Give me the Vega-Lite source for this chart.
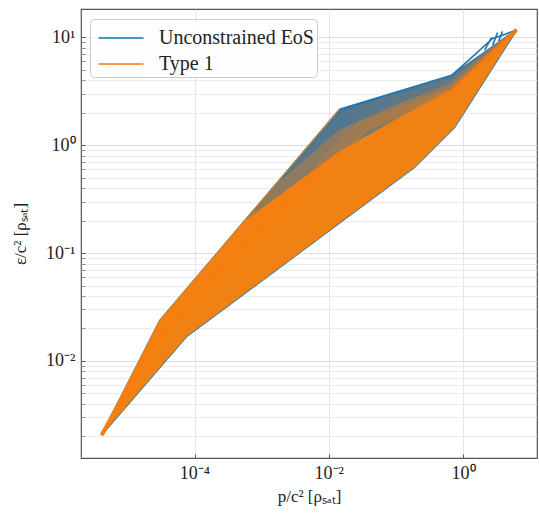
{
  "$schema": "https://vega.github.io/schema/vega-lite/v6.json",
  "width": 456,
  "height": 449,
  "autosize": {"type": "none"},
  "padding": {"left": 81, "top": 9, "right": 2, "bottom": 55},
  "background": "white",
  "config": {
    "font": "Liberation Serif",
    "view": {"stroke": "#555555", "strokeWidth": 1.2},
    "axis": {
      "domain": false,
      "tickColor": "#555555",
      "tickSize": -4,
      "labelFont": "Liberation Serif",
      "labelFontSize": 18,
      "labelColor": "#222222",
      "titleFont": "Liberation Serif",
      "titleFontSize": 17,
      "titleColor": "#222222",
      "titleFontWeight": "normal",
      "labelOverlap": false,
      "labelFlush": false
    }
  },
  "datasets": {
    "band": [
      {"x": 4.13e-6, "y": 0.002056, "lo": 0.002056},
      {"x": 3.047e-5, "y": 0.02372, "lo": 0.008687},
      {"x": 7.68e-5, "y": 0.04664, "lo": 0.01692},
      {"x": 0.01453, "y": 2.153, "lo": 0.1906},
      {"x": 0.1898, "y": 3.498, "lo": 0.6259},
      {"x": 0.6743, "y": 4.441, "lo": 1.377},
      {"x": 0.7473, "y": 4.645, "lo": 1.468},
      {"x": 6.252, "y": 11.7, "lo": 11.7}
    ],
    "mid": [
      {"x": 4.13e-6, "y": 0.002056, "lo": 0.002056},
      {"x": 3.047e-5, "y": 0.02372, "lo": 0.008687},
      {"x": 7.68e-5, "y": 0.04664, "lo": 0.01692},
      {"x": 1.567e-3, "y": 0.422, "lo": 0.06816},
      {"x": 0.01453, "y": 1.406, "lo": 0.1906},
      {"x": 0.1135, "y": 2.446, "lo": 0.4931},
      {"x": 0.1898, "y": 2.767, "lo": 0.6259},
      {"x": 0.6743, "y": 3.745, "lo": 1.377},
      {"x": 0.7473, "y": 3.951, "lo": 1.468},
      {"x": 6.252, "y": 11.7, "lo": 11.7}
    ],
    "core": [
      {"x": 4.13e-6, "y": 0.002056, "lo": 0.002056},
      {"x": 3.047e-5, "y": 0.02372, "lo": 0.008687},
      {"x": 7.68e-5, "y": 0.04664, "lo": 0.01692},
      {"x": 5.604e-4, "y": 0.1994, "lo": 0.04238},
      {"x": 0.01453, "y": 0.8801, "lo": 0.1906},
      {"x": 0.1135, "y": 1.815, "lo": 0.4931},
      {"x": 0.1898, "y": 2.158, "lo": 0.6259},
      {"x": 0.6743, "y": 3.296, "lo": 1.377},
      {"x": 0.7473, "y": 3.491, "lo": 1.468},
      {"x": 6.252, "y": 11.7, "lo": 11.7}
    ],
    "curves": [
      {"s": "Unconstrained EoS", "c": "b0", "t": 0, "x": 4.13e-6, "y": 0.002056},
      {"s": "Unconstrained EoS", "c": "b0", "t": 0, "x": 3.047e-5, "y": 0.02372},
      {"s": "Unconstrained EoS", "c": "b0", "t": 0, "x": 0.01453, "y": 2.152},
      {"s": "Unconstrained EoS", "c": "b0", "t": 0, "x": 0.6745, "y": 4.446},
      {"s": "Unconstrained EoS", "c": "b0", "t": 0, "x": 6.252, "y": 11.7},
      {"s": "Unconstrained EoS", "c": "b1", "t": 1, "x": 4.13e-6, "y": 0.002056},
      {"s": "Unconstrained EoS", "c": "b1", "t": 1, "x": 7.673e-5, "y": 0.01691},
      {"s": "Unconstrained EoS", "c": "b1", "t": 1, "x": 0.1896, "y": 0.6259},
      {"s": "Unconstrained EoS", "c": "b1", "t": 1, "x": 0.7473, "y": 1.468},
      {"s": "Unconstrained EoS", "c": "b1", "t": 1, "x": 6.252, "y": 11.7},
      {"s": "Unconstrained EoS", "c": "bu", "t": 0, "x": 0.6743, "y": 4.441},
      {"s": "Unconstrained EoS", "c": "bu", "t": 0, "x": 1.249, "y": 6.247},
      {"s": "Unconstrained EoS", "c": "bu", "t": 0, "x": 2.748, "y": 9.768},
      {"s": "Unconstrained EoS", "c": "bu", "t": 0, "x": 4.146, "y": 10.64},
      {"s": "Unconstrained EoS", "c": "bu", "t": 0, "x": 6.252, "y": 11.7},
      {"s": "Unconstrained EoS", "c": "p1", "t": 0, "x": 2.089, "y": 7.568},
      {"s": "Unconstrained EoS", "c": "p1", "t": 0, "x": 2.655, "y": 9.98},
      {"s": "Unconstrained EoS", "c": "p2", "t": 0, "x": 2.748, "y": 8.414},
      {"s": "Unconstrained EoS", "c": "p2", "t": 0, "x": 3.262, "y": 11.1},
      {"s": "Unconstrained EoS", "c": "p3", "t": 0, "x": 3.376, "y": 9.162},
      {"s": "Unconstrained EoS", "c": "p3", "t": 0, "x": 3.871, "y": 11.34},
      {"s": "Type 1", "c": "o05", "t": 0.05, "x": 4.13e-6, "y": 0.002056},
      {"s": "Type 1", "c": "o05", "t": 0.05, "x": 3.191e-5, "y": 0.02332},
      {"s": "Type 1", "c": "o05", "t": 0.05, "x": 0.01651, "y": 2.024},
      {"s": "Type 1", "c": "o05", "t": 0.05, "x": 0.678, "y": 4.206},
      {"s": "Type 1", "c": "o05", "t": 0.05, "x": 6.252, "y": 11.7},
      {"s": "Type 1", "c": "o10", "t": 0.1, "x": 4.13e-6, "y": 0.002056},
      {"s": "Type 1", "c": "o10", "t": 0.1, "x": 3.343e-5, "y": 0.02293},
      {"s": "Type 1", "c": "o10", "t": 0.1, "x": 0.01877, "y": 1.903},
      {"s": "Type 1", "c": "o10", "t": 0.1, "x": 0.6815, "y": 3.98},
      {"s": "Type 1", "c": "o10", "t": 0.1, "x": 6.252, "y": 11.7},
      {"s": "Type 1", "c": "o15", "t": 0.15, "x": 4.13e-6, "y": 0.002056},
      {"s": "Type 1", "c": "o15", "t": 0.15, "x": 3.5e-5, "y": 0.02254},
      {"s": "Type 1", "c": "o15", "t": 0.15, "x": 0.02135, "y": 1.788},
      {"s": "Type 1", "c": "o15", "t": 0.15, "x": 0.6851, "y": 3.765},
      {"s": "Type 1", "c": "o15", "t": 0.15, "x": 6.252, "y": 11.7},
      {"s": "Type 1", "c": "o20", "t": 0.2, "x": 4.13e-6, "y": 0.002056},
      {"s": "Type 1", "c": "o20", "t": 0.2, "x": 3.666e-5, "y": 0.02216},
      {"s": "Type 1", "c": "o20", "t": 0.2, "x": 0.02428, "y": 1.682},
      {"s": "Type 1", "c": "o20", "t": 0.2, "x": 0.6886, "y": 3.562},
      {"s": "Type 1", "c": "o20", "t": 0.2, "x": 6.252, "y": 11.7},
      {"s": "Type 1", "c": "o25", "t": 0.25, "x": 4.13e-6, "y": 0.002056},
      {"s": "Type 1", "c": "o25", "t": 0.25, "x": 3.839e-5, "y": 0.02179},
      {"s": "Type 1", "c": "o25", "t": 0.25, "x": 0.0276, "y": 1.581},
      {"s": "Type 1", "c": "o25", "t": 0.25, "x": 0.6921, "y": 3.369},
      {"s": "Type 1", "c": "o25", "t": 0.25, "x": 6.252, "y": 11.7},
      {"s": "Type 1", "c": "o30", "t": 0.3, "x": 4.13e-6, "y": 0.002056},
      {"s": "Type 1", "c": "o30", "t": 0.3, "x": 4.021e-5, "y": 0.02143},
      {"s": "Type 1", "c": "o30", "t": 0.3, "x": 0.03139, "y": 1.487},
      {"s": "Type 1", "c": "o30", "t": 0.3, "x": 0.6956, "y": 3.188},
      {"s": "Type 1", "c": "o30", "t": 0.3, "x": 6.252, "y": 11.7},
      {"s": "Type 1", "c": "o35", "t": 0.35, "x": 4.13e-6, "y": 0.002056},
      {"s": "Type 1", "c": "o35", "t": 0.35, "x": 4.21e-5, "y": 0.02106},
      {"s": "Type 1", "c": "o35", "t": 0.35, "x": 0.03569, "y": 1.397},
      {"s": "Type 1", "c": "o35", "t": 0.35, "x": 0.6991, "y": 3.016},
      {"s": "Type 1", "c": "o35", "t": 0.35, "x": 6.252, "y": 11.7},
      {"s": "Type 1", "c": "oe", "t": -1, "x": 4.13e-6, "y": 0.002056},
      {"s": "Type 1", "c": "oe", "t": -1, "x": 3.047e-5, "y": 0.02372},
      {"s": "Type 1", "c": "oe", "t": -1, "x": 0.01453, "y": 2.152}
    ]
  },
  "encoding": {
    "x": {
      "field": "x",
      "type": "quantitative",
      "scale": {"type": "log", "domain": [2.04e-6, 12.6], "nice": false},
      "axis": {
        "values": [0.0001, 0.01, 1],
        "labelExpr": "datum.value == 1 ? '10⁰' : datum.value == 0.01 ? '10⁻²' : datum.value == 0.0001 ? '10⁻⁴' : ''",
        "title": "p/c² [ρₛₐₜ]",
        "grid": true,
        "gridColor": "#dedede",
        "gridWidth": 0.8,
        "labelPadding": 10,
        "titlePadding": 6
      }
    },
    "y": {
      "field": "y",
      "type": "quantitative",
      "scale": {"type": "log", "domain": [1.26e-3, 18.3], "nice": false},
      "axis": {
        "values": [0.002, 0.003, 0.004, 0.005, 0.006, 0.007, 0.008, 0.009, 0.01, 0.02, 0.03, 0.04, 0.05, 0.06, 0.07, 0.08, 0.09, 0.1, 0.2, 0.3, 0.4, 0.5, 0.6, 0.7, 0.8, 0.9, 1, 2, 3, 4, 5, 6, 7, 8, 9, 10],
        "labelExpr": "datum.value == 10 ? '10¹' : datum.value == 1 ? '10⁰' : datum.value == 0.1 ? '10⁻¹' : datum.value == 0.01 ? '10⁻²' : ''",
        "title": "ε/c² [ρₛₐₜ]",
        "grid": true,
        "gridColor": {"condition": {"test": "datum.value == 10 || datum.value == 1 || datum.value == 0.1 || datum.value == 0.01", "value": "#d6d6d6"}, "value": "#e6e6e6"},
        "gridWidth": 0.8,
        "tickOpacity": {"condition": {"test": "datum.value == 10 || datum.value == 1 || datum.value == 0.1 || datum.value == 0.01", "value": 1}, "value": 0.6},
        "labelPadding": 10,
        "titlePadding": 16
      }
    }
  },
  "layer": [
    {
      "data": {"name": "band"},
      "mark": {"type": "area", "color": "#3377a8"},
      "encoding": {"y2": {"field": "lo"}}
    },
    {
      "data": {"name": "curves"},
      "transform": [{"filter": "datum.s == 'Unconstrained EoS'"}],
      "mark": {"type": "line", "strokeWidth": 1.6},
      "encoding": {
        "detail": {"field": "c"},
        "color": {
          "field": "s",
          "type": "nominal",
          "scale": {"domain": ["Unconstrained EoS", "Type 1"], "range": ["#1f77b4", "#ff7f0e"]},
          "legend": {
            "orient": "none",
            "legendX": 9,
            "legendY": 10,
            "title": null,
            "symbolType": "M-1.5,0L1.5,0",
            "symbolSize": 900,
            "symbolStrokeWidth": 2,
            "symbolOpacity": 0.8,
            "symbolOffset": 12,
            "labelOffset": 22,
            "labelFontSize": 20,
            "labelFont": "Liberation Serif",
            "labelColor": "#222222",
            "labelLimit": 400,
            "fillColor": "rgba(255,255,255,0.85)",
            "strokeColor": "#cccccc",
            "cornerRadius": 4,
            "padding": 3,
            "rowPadding": 0
          }
        }
      }
    },
    {
      "data": {"name": "mid"},
      "mark": {"type": "area", "color": "#f08213", "opacity": 0.35},
      "encoding": {"y2": {"field": "lo"}}
    },
    {
      "data": {"name": "core"},
      "mark": {"type": "area", "color": "#f08213"},
      "encoding": {"y2": {"field": "lo"}}
    },
    {
      "data": {"name": "curves"},
      "transform": [{"filter": "datum.s == 'Type 1' && datum.t >= 0.05"}],
      "mark": {"type": "line", "strokeWidth": 4, "color": "#ff7f0e", "opacity": 0.18},
      "encoding": {"detail": {"field": "c"}}
    },
    {
      "data": {"name": "curves"},
      "transform": [{"filter": "datum.s == 'Type 1' && datum.t >= 0.25"}],
      "mark": {"type": "line", "strokeWidth": 4, "color": "#ff7f0e", "opacity": 0.2},
      "encoding": {"detail": {"field": "c"}}
    },
    {
      "data": {"name": "curves"},
      "transform": [{"filter": "datum.c == 'oe'"}],
      "mark": {"type": "line", "strokeWidth": 1.8, "color": "#f08213", "opacity": 0.7},
      "encoding": {"detail": {"field": "c"}}
    }
  ]
}
